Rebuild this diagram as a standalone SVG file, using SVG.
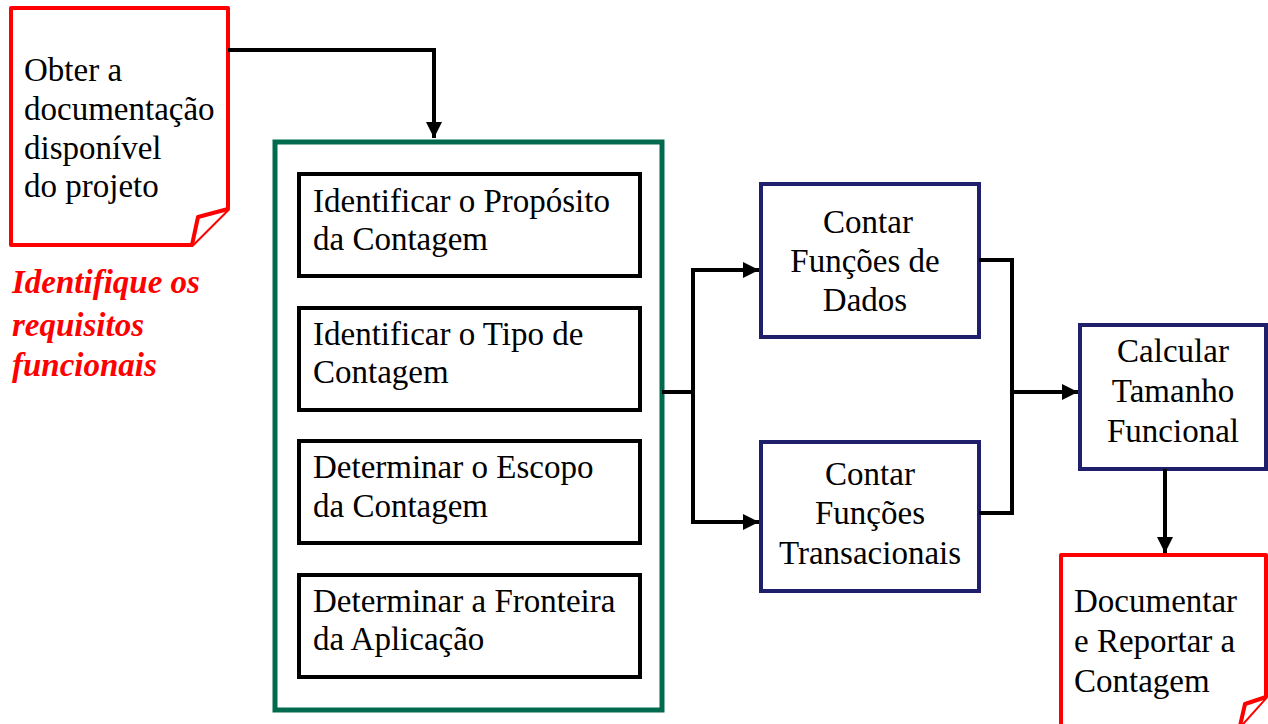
<svg xmlns="http://www.w3.org/2000/svg" width="1268" height="724" viewBox="0 0 1268 724">
<defs>
<style>
.t{font-family:"Liberation Serif","Times New Roman",serif;font-size:33px;fill:#000}
.c{text-anchor:middle}
.red{font-family:"Liberation Serif","Times New Roman",serif;font-size:33px;font-weight:bold;font-style:italic;fill:#ff0000}
.doc{fill:#fff;stroke:#ff0000;stroke-width:4;stroke-linejoin:round}
.blk{fill:#fff;stroke:#000;stroke-width:4}
.blu{fill:#fff;stroke:#1f1f6b;stroke-width:4}
.grn{fill:#fff;stroke:#006a4e;stroke-width:5}
.ln{fill:none;stroke:#000;stroke-width:4}
</style>
<marker id="ah" viewBox="0 0 10 10" refX="10" refY="5" markerWidth="4" markerHeight="4" orient="auto" markerUnits="strokeWidth">
<path d="M0,0 L10,5 L0,10 Z" fill="#000"/>
</marker>
</defs>
<rect width="1268" height="724" fill="#fff"/>

<g id="doc1">
<path class="doc" d="M11,8 H228 V209 L192,245 H11 Z"/>
<path class="doc" d="M228,209 L198,217 L192,245"/>
<text class="t" x="24" y="81">Obter a</text>
<text class="t" x="24" y="120">documentação</text>
<text class="t" x="24" y="159">disponível</text>
<text class="t" x="24" y="197">do projeto</text>
</g>

<g id="note">
<text class="red" x="12" y="293">Identifique os</text>
<text class="red" x="12" y="336">requisitos</text>
<text class="red" x="12" y="376">funcionais</text>
</g>

<g id="group">
<rect class="grn" x="275" y="142" width="387" height="568"/>
</g>

<g id="box1">
<rect class="blk" x="299" y="174" width="341" height="102"/>
<text class="t" x="313" y="212">Identificar o Propósito</text>
<text class="t" x="313" y="250">da Contagem</text>
</g>
<g id="box2">
<rect class="blk" x="299" y="308" width="341" height="102"/>
<text class="t" x="313" y="345">Identificar o Tipo de</text>
<text class="t" x="313" y="383">Contagem</text>
</g>
<g id="box3">
<rect class="blk" x="299" y="441" width="341" height="102"/>
<text class="t" x="313" y="478">Determinar o Escopo</text>
<text class="t" x="313" y="517">da Contagem</text>
</g>
<g id="box4">
<rect class="blk" x="299" y="575" width="341" height="102"/>
<text class="t" x="313" y="612">Determinar a Fronteira</text>
<text class="t" x="313" y="650">da Aplicação</text>
</g>

<g id="dados">
<rect class="blu" x="761" y="184" width="218" height="153"/>
<text class="t c" x="868" y="233">Contar</text>
<text class="t c" x="865" y="272">Funções de</text>
<text class="t c" x="865" y="311">Dados</text>
</g>
<g id="trans">
<rect class="blu" x="761" y="442" width="218" height="149"/>
<text class="t c" x="870" y="485">Contar</text>
<text class="t c" x="870" y="524">Funções</text>
<text class="t c" x="870" y="564">Transacionais</text>
</g>
<g id="calc">
<rect class="blu" x="1080" y="325" width="186" height="144"/>
<text class="t c" x="1173" y="362">Calcular</text>
<text class="t c" x="1173" y="402">Tamanho</text>
<text class="t c" x="1173" y="442">Funcional</text>
</g>

<g id="doc2">
<path class="doc" d="M1061,555 H1266 V697 L1240,726 H1061 Z"/>
<path class="doc" d="M1266,697 L1245,704 L1240,726"/>
<text class="t" x="1074" y="612">Documentar</text>
<text class="t" x="1074" y="652">e Reportar a</text>
<text class="t" x="1074" y="692">Contagem</text>
</g>

<g id="connectors">
<path class="ln" d="M228,50 H434 V138" marker-end="url(#ah)"/>
<path class="ln" d="M662,392 H693"/>
<path class="ln" d="M693,270 V522"/>
<path class="ln" d="M691,270 H759" marker-end="url(#ah)"/>
<path class="ln" d="M691,522 H759" marker-end="url(#ah)"/>
<path class="ln" d="M979,260 H1012 V513 H979"/>
<path class="ln" d="M1012,392 H1078" marker-end="url(#ah)"/>
<path class="ln" d="M1165,469 V553" marker-end="url(#ah)"/>
</g>
</svg>
